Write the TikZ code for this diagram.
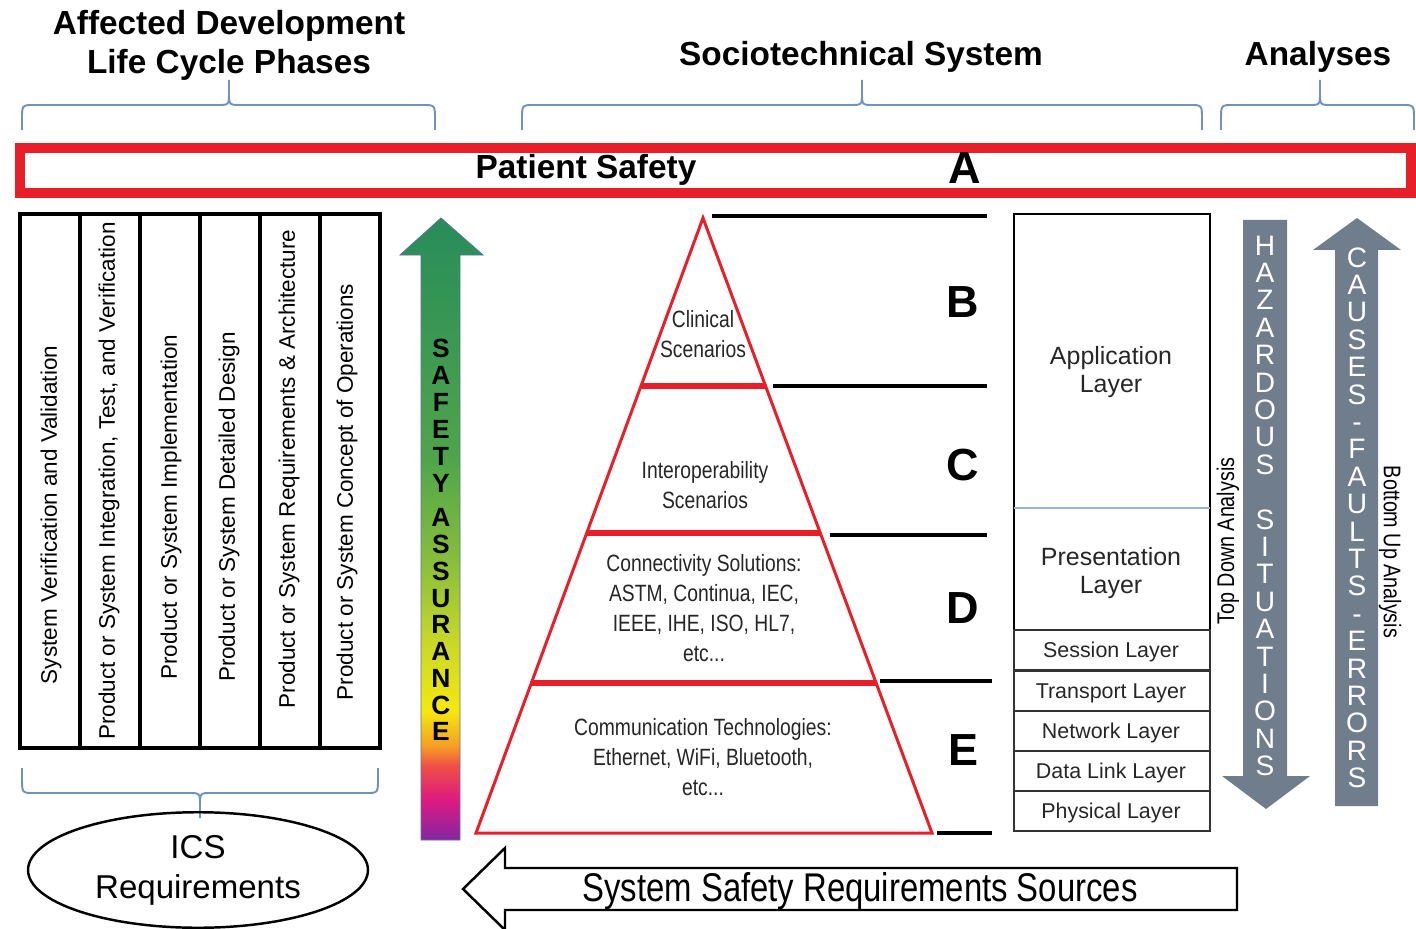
\documentclass[tikz,border=0pt]{standalone}
\usepackage{fontspec}
\setmainfont{Liberation Sans}
\newfontfamily\narrowfont[FakeStretch=0.82]{Liberation Sans}
\usetikzlibrary{calc,shapes.geometric}

\definecolor{safered}{RGB}{232,30,40}
\definecolor{braceblue}{RGB}{112,146,190}
\definecolor{slategrey}{RGB}{112,125,140}
\definecolor{sadkgreen}{RGB}{40,140,90}
\definecolor{sagreen}{RGB}{80,165,75}
\definecolor{salime}{RGB}{135,190,60}
\definecolor{sayg}{RGB}{200,215,40}
\definecolor{sayellow}{RGB}{245,232,15}
\definecolor{saorange}{RGB}{245,160,35}
\definecolor{sared}{RGB}{240,80,70}
\definecolor{samagenta}{RGB}{222,25,130}
\definecolor{sapurple}{RGB}{130,40,160}

\pgfdeclareverticalshading{safetygrad}{100bp}{color(0bp)=(sapurple); color(25bp)=(sapurple); color(28.2bp)=(samagenta); color(31bp)=(sared); color(32.6bp)=(saorange); color(35.4bp)=(sayellow); color(41bp)=(sayg); color(47.5bp)=(salime); color(55.5bp)=(sagreen); color(75bp)=(sadkgreen); color(100bp)=(sadkgreen)}

\def\setfs#1#2{\fontsize{#1}{#2}\selectfont}
% brace: x1, xmid, x2, y of ends, direction (-1 up, 1 down)
\def\hbrace(#1,#2,#3,#4,#5){\draw[bluebrace] ({#1},{#4}) -- ({#1},{#4+(#5)*10}) .. controls ({#1},{#4+(#5)*25}) .. ({#1+12},{#4+(#5)*25}) -- ({#2-12},{#4+(#5)*25}) .. controls ({#2},{#4+(#5)*25}) .. ({#2},{#4+(#5)*37}) -- ({#2},{#4+(#5)*50}) ({#2},{#4+(#5)*37}) .. controls ({#2},{#4+(#5)*25}) .. ({#2+12},{#4+(#5)*25}) -- ({#3-12},{#4+(#5)*25}) .. controls ({#3},{#4+(#5)*25}) .. ({#3},{#4+(#5)*10}) -- ({#3},{#4});}

\tikzset{
  heading/.style={font=\bfseries\setfs{19pt}{22.2pt}, align=center},
  level/.style={font=\bfseries\setfs{25.6pt}{28pt}},
  phase/.style={rotate=90, font=\setfs{12.8pt}{14pt}},
  pyrtext/.style={font=\narrowfont\setfs{13.4pt}{17pt}, align=center, text=black!85},
  layer/.style={font=\setfs{14.2pt}{16pt}, align=center, text=black!85},
  smalllayer/.style={font=\setfs{12.2pt}{14pt}, text=black!85},
  stackletter/.style={font=\setfs{16pt}{16pt}, text=white, inner sep=0pt, text height=11.4pt, text depth=0pt},
  safeletter/.style={font=\bfseries\setfs{15pt}{15pt}, inner sep=0pt, text height=10.7pt, text depth=0pt},
  bluebrace/.style={draw=braceblue, line width=1.1pt},
  levelline/.style={line width=2.3pt},
  pyramid/.style={draw=safered, line width=1.7pt},
  pyrsplit/.style={draw=safered, line width=3.4pt},
  greyarrow/.style={fill=slategrey, draw=none},
}

\begin{document}
\begin{tikzpicture}[x=0.02cm, y=-0.02cm]
		%%%%% START %%%%%
		\useasboundingbox (0,0) rectangle (1416,929);
		
		% headings and braces
		\node[heading] (phases) at (229,45) {Affected Development\\Life Cycle Phases};
		\node[heading] (socio) at (861,57) {Sociotechnical System};
		\node[heading] (analyses) at (1318,57) {Analyses};
		\hbrace(22,229,435,130,-1)
		\hbrace(522,862,1202,130,-1)
		\hbrace(1221,1320,1414,130,-1)
		
		% patient safety band
		\draw[draw=safered, line width=6pt] (20,148) rectangle (1411,193);
		\node[heading] (patient) at (586,170) {Patient Safety};
		\node[level] (lvA) at (965,168) {A};
		
		% life cycle phases
		\draw[line width=2.3pt] (20,214) rectangle (380,748);
		\foreach \x in {80,140,...,320}
			\draw[line width=2pt] (\x,214) -- (\x,748);
		\node[phase] (ph1) at (51,515) {System Verification and Validation};
		\node[phase] (ph2) at (109,481) {Product or System Integration, Test, and Verification};
		\node[phase] (ph3) at (171,507) {Product or System Implementation};
		\node[phase] (ph4) at (229,507) {Product or System Detailed Design};
		\node[phase] (ph5) at (289,469) {Product or System Requirements \& Architecture};
		\node[phase] (ph6) at (347,492) {Product or System Concept of Operations};
		
		\hbrace(22,200,378,768,1)
		\node[draw, ellipse, line width=1.4pt, minimum width=6.8cm, minimum height=2.08cm, align=center, font=\setfs{18.8pt}{22.8pt}] (ics) at (198,870) {ICS\\Requirements};
		
		% safety assurance
		\draw[shading=safetygrad, draw=braceblue!80!black, line width=0.5pt] (421,840) -- (421,255) -- (400,255) -- (441,218) -- (483,255) -- (460,255) -- (460,840) -- cycle;
		\foreach \c/\y [count=\i] in {S/348,A/375,F/402,E/429,T/456,Y/483,A/517,S/544,S/571,U/598,R/624,A/651,N/678,C/705,E/731}
			\node[safeletter] (sa\i) at (441,\y) {\c};
		
		% pyramid
		\coordinate (apex) at (703,218);
		\coordinate (bl) at (476,833);
		\coordinate (br) at (932,833);
		\draw[pyramid] (apex) -- (bl) -- (br) -- cycle;
		\foreach \t in {0.2732,0.5122,0.7561}
			\draw[pyrsplit] ($(apex)!\t!(bl)$) -- ($(apex)!\t!(br)$);
		\node[pyrtext] (clin) at (703,334) {Clinical\\Scenarios};
		\node[pyrtext] (interop) at (705,485) {Interoperability\\Scenarios};
		\node[pyrtext] (conn) at (704,608) {Connectivity Solutions:\\ASTM, Continua, IEC,\\IEEE, IHE, ISO, HL7,\\etc...};
		\node[pyrtext] (comm) at (703,757) {Communication Technologies:\\Ethernet, WiFi, Bluetooth,\\etc...};
		
		\draw[levelline] (712,216) -- (987,216);
		\draw[levelline] (773,386) -- (987,386);
		\draw[levelline] (830,535) -- (987,535);
		\draw[levelline] (880,681) -- (992,681);
		\draw[levelline] (937,833) -- (992,833);
		\node[level] (lvB) at (963,302) {B};
		\node[level] (lvC) at (963,465) {C};
		\node[level] (lvD) at (963,608) {D};
		\node[level] (lvE) at (963,750) {E};
		
		% osi layers
		\draw[line width=1.4pt] (1014,214) rectangle (1210,630);
		\draw[draw=braceblue!70, line width=0.6pt] (1014,508) -- (1210,508);
		\node[layer] (app) at (1111,372) {Application\\Layer};
		\node[layer] (pres) at (1111,573) {Presentation\\Layer};
		\foreach \n/\y/\txt in {sess/630/Session Layer,trans/671/Transport Layer,net/711/Network Layer,link/751/Data Link Layer,phys/791/Physical Layer}{
			\draw[line width=0.6pt, draw=black!80] (1014,\y) rectangle (1210,\y+40);
			\node[smalllayer] (\n) at (1111,\y+22) {\txt};
		}
		
		% analyses
		\draw[greyarrow] (1243,220) -- (1287,220) -- (1287,776) -- (1310,776) -- (1266,809) -- (1222,776) -- (1243,776) -- cycle;
		\foreach \c [count=\i from 0] in {H,A,Z,A,R,D,O,U,S,{},S,I,T,U,A,T,I,O,N,S}
			\node[stackletter] (hz\i) at (1265,245+27.4*\i) {\c};
		\draw[greyarrow] (1335,806) -- (1335,250) -- (1313,250) -- (1357,218) -- (1401,250) -- (1378,250) -- (1378,806) -- cycle;
		\foreach \c [count=\i from 0] in {C,A,U,S,E,S,-,F,A,U,L,T,S,-,E,R,R,O,R,S}
			\node[stackletter] (cf\i) at (1357,257+27.4*\i) {\c};
		\node[rotate=90, font=\narrowfont\setfs{13.7pt}{15pt}] (topdown) at (1228,541) {Top Down Analysis};
		\node[rotate=-90, font=\narrowfont\setfs{13.7pt}{15pt}] (bottomup) at (1390,552) {Bottom Up Analysis};
		
		% requirement sources
		\draw[line width=1.4pt, fill=white] (1237,868) -- (1237,910) -- (505,910) -- (505,930) -- (463,889) -- (505,848) -- (505,868) -- cycle;
		\node[font=\narrowfont\setfs{22.8pt}{24pt}] (sources) at (860,891) {System Safety Requirements Sources};
		
		%%%%% END %%%%%
	\end{tikzpicture}
\end{document}
